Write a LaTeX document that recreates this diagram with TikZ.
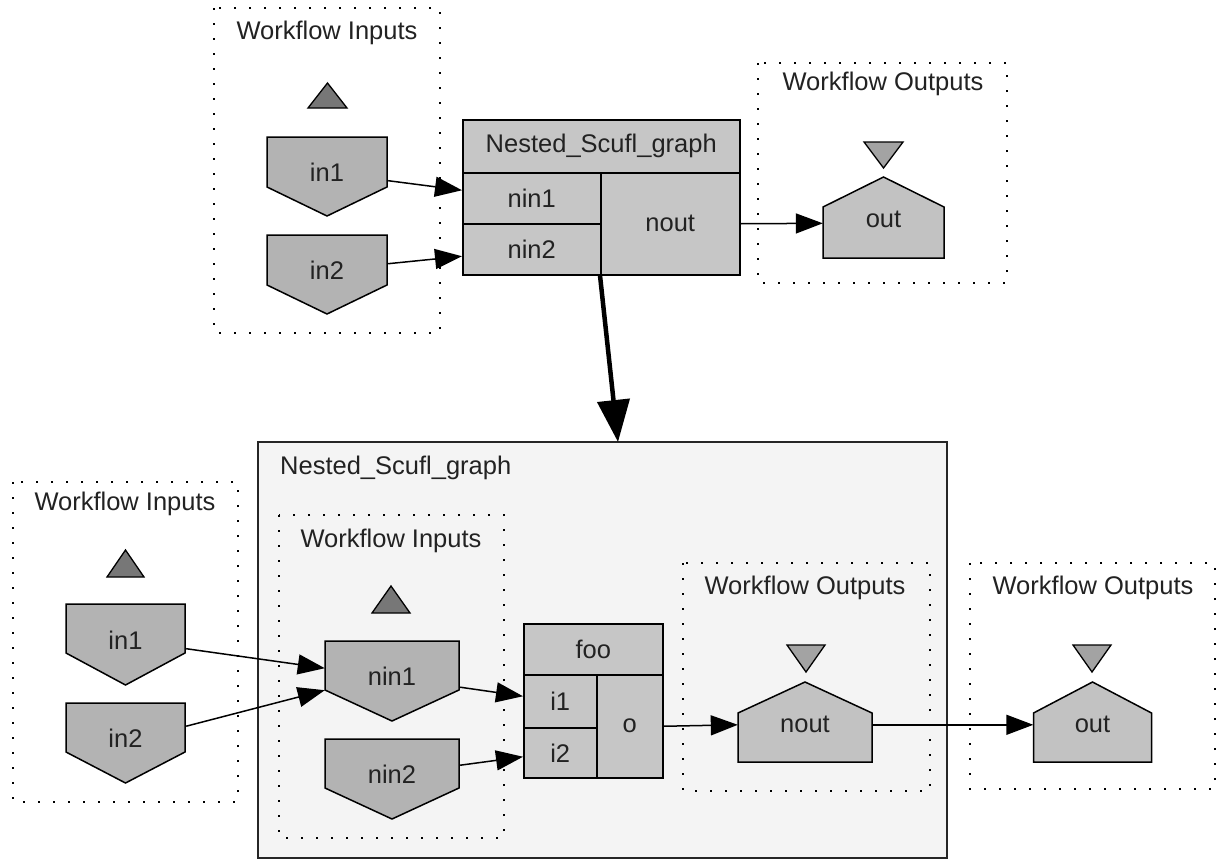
\documentclass[tikz,border=0pt]{standalone}
\usepackage{fontspec}
\setmainfont{Liberation Sans}
\usetikzlibrary{arrows.meta,calc}
\definecolor{infill}{HTML}{B3B3B3}
\definecolor{outfill}{HTML}{C2C2C2}
\definecolor{recfill}{HTML}{C6C6C6}
\definecolor{upfill}{HTML}{777777}
\definecolor{downfill}{HTML}{A3A3A3}
\definecolor{clfill}{HTML}{F4F4F4}
\definecolor{txt}{HTML}{222222}
\tikzset{
  shp/.style={draw=black, line width=1.5pt, line join=miter},
  lbl/.style={font=\fontsize{25.5}{30}\selectfont, inner sep=0pt, text=txt},
  cell/.style={shp, fill=recfill, inner sep=0pt, anchor=north west, font=\fontsize{25.5}{30}\selectfont, text=txt},
  dotbox/.style={draw=black, line width=1.9pt, dash pattern=on 1.9pt off 13.1pt},
  conn/.style={draw=black, line width=1.5pt, -{Triangle[length=27pt,width=20pt]}},
  bigconn/.style={draw=black, line width=4.5pt, -{Triangle[length=42pt,width=32pt]}},
  tri/.style={draw=black, line width=1.3pt},
}
% pentagon pointing down: name, cx, top, width, side, total, text
\newcommand\inpent[7]{%
  \draw[shp, fill=infill] ({#2-#4/2},#3) -- ({#2+#4/2},#3) -- ({#2+#4/2},{#3+#5}) -- (#2,{#3+#6}) -- ({#2-#4/2},{#3+#5}) -- cycle;
  \node[lbl, minimum width=#4, minimum height=#6, anchor=north] (#1) at (#2,#3) {\raisebox{-4.5pt}[0pt][0pt]{#7}};
}
% house: name, cx, bottom, width, side, total, text
\newcommand\outhouse[7]{%
  \draw[shp, fill=outfill] ({#2-#4/2},#3) -- ({#2+#4/2},#3) -- ({#2+#4/2},{#3-#5}) -- (#2,{#3-#6}) -- ({#2-#4/2},{#3-#5}) -- cycle;
  \node[lbl, minimum width=#4, minimum height=#6, anchor=south] (#1) at (#2,#3) {\raisebox{-10.5pt}[0pt][0pt]{#7}};
}
\begin{document}
\begin{tikzpicture}[x=1pt,y=-1pt]
\useasboundingbox[fill=white] (0,0) rectangle (1220,862);

% ---------------- top part ----------------
\draw[dotbox] (214,8) rectangle (440,333);
\node[lbl] (tinT) at (327,33) {Workflow Inputs};
\draw[tri, fill=upfill] (308,108) -- (347,108) -- (327.5,83) -- cycle;
\inpent{in1}{327}{137}{120}{50}{79}{in1}
\inpent{in2}{327}{235}{120}{50}{79}{in2}

\node[cell, minimum width=277, minimum height=53] (nsg) at (462,119) {Nested\_Scufl\_graph};
\node[cell, minimum width=138, minimum height=51] (nin1p) at (462,172) {nin1};
\node[cell, minimum width=138, minimum height=51] (nin2p) at (462,223) {nin2};
\node[cell, minimum width=139, minimum height=102] (noutp) at (600,172) {nout};

\draw[dotbox] (758,63) rectangle (1007,283);
\node[lbl] (toutT) at (883,84) {Workflow Outputs};
\draw[tri, fill=downfill] (864,142) -- (903,142) -- (883.5,168) -- cycle;
\outhouse{out}{883.5}{258}{121}{51}{81}{out}

\draw[conn] ($(in1.east)+(1,4)$) -- ($(nin1p.west)+(0,-8)$);
\draw[conn] ($(in2.east)+(1,-11)$) -- ($(nin2p.west)+(0,7)$);
\draw[conn] (noutp.east) -- ($(out.west)+(0,6)$);

% ---------------- bottom part ----------------
\draw[shp, draw=black!85, fill=clfill] (258,442) rectangle (947,858);
\node[lbl, anchor=west] (clT) at (280,468) {Nested\_Scufl\_graph};
\draw[bigconn] (noutp.south west) -- (618,442);

\draw[dotbox] (13,482) rectangle (238,802);
\node[lbl] (binT) at (125,504) {Workflow Inputs};
\draw[tri, fill=upfill] (107,577) -- (144,577) -- (125.5,550) -- cycle;
\inpent{oin1}{125.5}{604}{119}{49}{81}{in1}
\inpent{oin2}{125.5}{703}{119}{49}{80}{in2}

\draw[dotbox] (279,515) rectangle (504,838);
\node[lbl] (iinT) at (391,541) {Workflow Inputs};
\draw[tri, fill=upfill] (372,613) -- (410,613) -- (391,586) -- cycle;
\inpent{nin1}{392}{641}{134}{49}{80}{nin1}
\inpent{nin2}{392}{739}{134}{49}{80}{nin2}

\node[cell, minimum width=139, minimum height=51] (foo) at (523,623) {foo};
\node[cell, minimum width=73, minimum height=53] (i1) at (523,674) {i1};
\node[cell, minimum width=73, minimum height=50] (i2) at (523,727) {i2};
\node[cell, minimum width=66, minimum height=103] (o) at (596,674) {o};

\draw[dotbox] (683,563) rectangle (930,791);
\node[lbl] (ioutT) at (805,588) {Workflow Outputs};
\draw[tri, fill=downfill] (787,645) -- (825,645) -- (806,672) -- cycle;
\outhouse{nout}{805}{762}{134}{49}{80}{nout}

\draw[dotbox] (970,563) rectangle (1215,789);
\node[lbl] (ooutT) at (1093,588) {Workflow Outputs};
\draw[tri, fill=downfill] (1073,645) -- (1111,645) -- (1092,672) -- cycle;
\outhouse{oout}{1092.5}{762}{118}{49}{80}{out}

\draw[conn] ($(oin1.east)+(1,4)$) -- ($(nin1.west)+(0,-13)$);
\draw[conn] ($(oin2.east)+(1,-17)$) -- ($(nin1.west)+(0,9)$);
\draw[conn] ($(nin1.east)+(1,6)$) -- ($(i1.west)+(0,-5)$);
\draw[conn] ($(nin2.east)+(1,-14)$) -- ($(i2.west)+(0,4)$);
\draw[conn] (o.east) -- ($(nout.west)+(0,3)$);
\draw[conn] ($(nout.east)+(0,3)$) -- ($(oout.west)+(0,3)$);
\end{tikzpicture}
\end{document}
